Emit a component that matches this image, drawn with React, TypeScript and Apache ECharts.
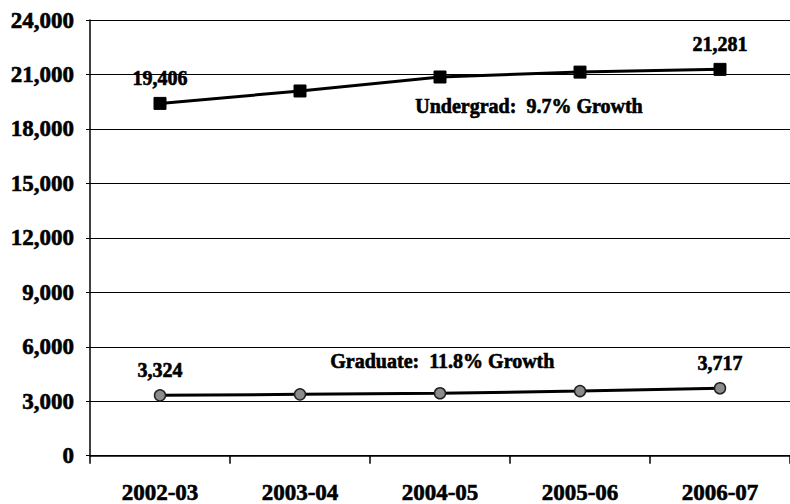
import React, { useEffect, useRef } from "react";
import * as echarts from "echarts";

const categories = ["2002-03", "2003-04", "2004-05", "2005-06", "2006-07"];
const undergrad = [19406, 20090, 20860, 21130, 21281];
const graduate = [3324, 3380, 3440, 3560, 3717];
const yTicks = { min: 0, max: 24000, interval: 3000 };
const undergradNote = "Undergrad:  9.7% Growth";
const graduateNote = "Graduate:  11.8% Growth";

const FONT = "'Liberation Serif', 'Times New Roman', serif";
const HEAVY = { textBorderColor: "#000", textBorderWidth: 0.6 };

function withEndLabels(values: number[]) {
  return values.map((v, i) => ({
    value: v,
    label: { show: i === 0 || i === values.length - 1 },
  }));
}

export default function App() {
  const ref = useRef<HTMLDivElement>(null);
  useEffect(() => {
    if (!ref.current) return;
    const chart = echarts.init(ref.current, null, { renderer: "svg" });
    const labelStyle = {
      position: "top" as const,
      distance: 9,
      fontFamily: FONT,
      fontWeight: "bold" as const,
      fontSize: 20,
      color: "#000",
      ...HEAVY,
      formatter: (p: any) => Number(p.value).toLocaleString("en-US"),
    };
    chart.setOption({
      animation: false,
      backgroundColor: "#fff",
      grid: { left: 90, top: 20, width: 710, height: 436, containLabel: false },
      xAxis: {
        type: "category",
        data: categories,
        boundaryGap: true,
        axisLine: { lineStyle: { color: "#000", width: 1.5 } },
        axisTick: { show: true, length: 8, lineStyle: { color: "#000", width: 1.5 } },
        axisLabel: {
          margin: 25,
          fontFamily: FONT,
          fontWeight: "bold",
          fontSize: 23,
          color: "#000",
          ...HEAVY,
        },
        splitLine: { show: false },
      },
      yAxis: {
        type: "value",
        min: yTicks.min,
        max: yTicks.max,
        interval: yTicks.interval,
        axisLine: { show: true, lineStyle: { color: "#000", width: 1.5 } },
        axisTick: { show: true, length: 4, lineStyle: { color: "#000" } },
        axisLabel: {
          margin: 16,
          fontFamily: FONT,
          fontWeight: "bold",
          fontSize: 23,
          color: "#000",
          ...HEAVY,
          formatter: (v: number) => v.toLocaleString("en-US"),
        },
        splitLine: { show: true, lineStyle: { color: "#000", width: 1.2 } },
      },
      series: [
        {
          name: "Undergrad",
          type: "line",
          data: withEndLabels(undergrad),
          symbol: "rect",
          symbolSize: 12,
          lineStyle: { color: "#000", width: 3 },
          itemStyle: { color: "#000", borderColor: "#000" },
          label: labelStyle,
          z: 3,
        },
        {
          name: "Graduate",
          type: "line",
          data: withEndLabels(graduate),
          symbol: "circle",
          symbolSize: 11,
          lineStyle: { color: "#000", width: 3 },
          itemStyle: { color: "#8c8c8c", borderColor: "#222", borderWidth: 1.5 },
          label: labelStyle,
          z: 3,
        },
      ],
      graphic: [
        {
          type: "text",
          left: 415,
          top: 96,
          style: {
            text: undergradNote,
            fontFamily: FONT,
            fontWeight: "bold",
            fontSize: 20,
            fill: "#000",
            stroke: "#000",
            lineWidth: 0.6,
          },
        },
        {
          type: "text",
          left: 330,
          top: 351,
          style: {
            text: graduateNote,
            fontFamily: FONT,
            fontWeight: "bold",
            fontSize: 20,
            fill: "#000",
            stroke: "#000",
            lineWidth: 0.6,
          },
        },
      ],
    });
    return () => chart.dispose();
  }, []);
  return (
    <div
      ref={ref}
      style={{ position: "fixed", left: 0, top: 0, width: 790, height: 504, background: "#fff" }}
    />
  );
}
